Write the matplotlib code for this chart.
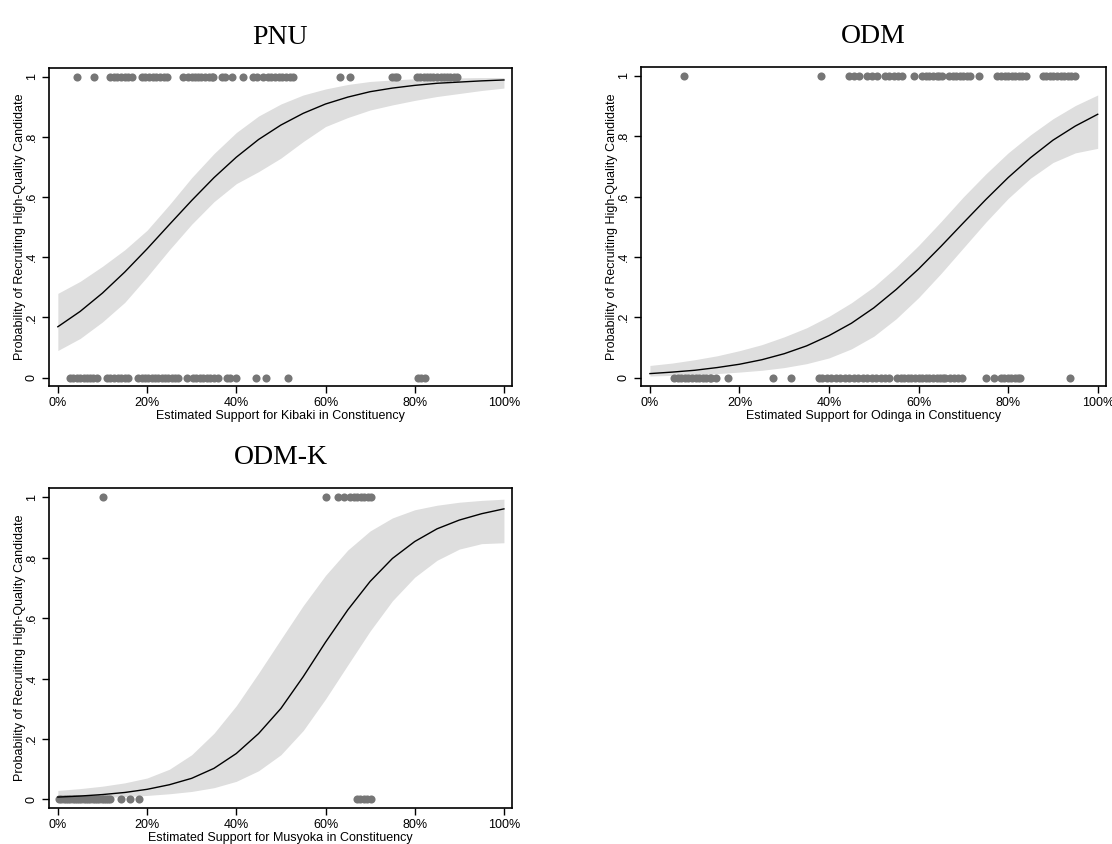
import numpy as np
import matplotlib
matplotlib.use("Agg")
import matplotlib.pyplot as plt

plt.rcParams['font.family'] = ['Liberation Sans', 'DejaVu Sans']

# support grid (percent) used for the fitted curves
grid = [0, 5, 10, 15, 20, 25, 30, 35, 40, 45, 50, 55, 60, 65, 70, 75, 80, 85, 90, 95, 100]

# PNU
pnu_fit = [0.169, 0.220, 0.281, 0.351, 0.428, 0.509, 0.589, 0.665, 0.733, 0.792, 0.840, 0.879,
           0.910, 0.933, 0.951, 0.963, 0.972, 0.979, 0.983, 0.987, 0.990]
pnu_hi = [0.28, 0.32, 0.37, 0.425, 0.49, 0.575, 0.665, 0.745, 0.815, 0.87, 0.91, 0.94, 0.96,
          0.975, 0.985, 0.99, 0.994, 0.996, 0.997, 0.998, 0.998]
pnu_lo = [0.09, 0.13, 0.185, 0.25, 0.335, 0.425, 0.51, 0.585, 0.645, 0.685, 0.73, 0.785, 0.835,
          0.865, 0.89, 0.907, 0.922, 0.935, 0.945, 0.955, 0.963]
pnu_yes = [4.3, 8.1, 11.7, 12.5, 13.3, 14.2, 15.0, 15.8, 16.6, 18.8, 19.6, 20.4, 21.3, 22.1,
           23.0, 23.8, 24.4, 28.0, 29.2, 30.0, 30.8, 31.5, 32.2, 33.0, 33.8, 34.5, 34.8, 36.7,
           37.4, 39.0, 41.5, 43.8, 44.6, 46.0, 47.0, 47.8, 48.6, 49.5, 50.3, 51.2, 52.0, 52.7,
           63.2, 65.5, 74.8, 75.5, 76.0, 80.5, 81.2, 82.0, 82.8, 83.5, 84.2, 85.0, 85.8, 86.5,
           87.2, 88.0, 88.7, 89.4]
pnu_no = [2.7, 3.5, 4.3, 5.0, 5.8, 6.5, 7.2, 7.9, 8.8, 11.0, 11.8, 12.6, 13.4, 14.2, 15.0,
          15.7, 18.0, 18.8, 19.6, 20.3, 21.0, 21.8, 22.5, 23.3, 24.0, 24.8, 25.5, 26.3, 27.0,
          29.0, 30.3, 31.0, 31.8, 32.6, 33.4, 34.2, 35.0, 36.0, 37.9, 38.7, 40.0, 44.4, 46.6,
          51.7, 80.8, 81.5, 82.3]

# ODM
odm_fit = [0.013, 0.018, 0.024, 0.033, 0.044, 0.059, 0.079, 0.105, 0.139, 0.18, 0.231, 0.292,
           0.36, 0.435, 0.513, 0.59, 0.663, 0.729, 0.787, 0.834, 0.873]
odm_hi = [0.040, 0.048, 0.059, 0.072, 0.089, 0.109, 0.135, 0.165, 0.203, 0.248, 0.301, 0.366,
          0.438, 0.517, 0.599, 0.675, 0.745, 0.805, 0.858, 0.902, 0.937]
odm_lo = [0.005, 0.007, 0.009, 0.013, 0.018, 0.024, 0.033, 0.046, 0.065, 0.095, 0.137, 0.195,
          0.265, 0.345, 0.430, 0.515, 0.594, 0.661, 0.713, 0.745, 0.760]
odm_yes = [7.6, 38.3, 44.4, 45.5, 46.6, 48.4, 49.5, 50.7, 52.5, 53.5, 54.4, 55.3, 56.3, 59.0,
           60.8, 61.6, 62.4, 63.2, 64.0, 64.6, 65.2, 66.8, 67.6, 68.4, 69.2, 70.0, 70.8, 71.5,
           73.5, 77.6, 78.4, 79.2, 80.0, 80.8, 81.6, 82.4, 83.2, 83.9, 87.7, 88.5, 89.3, 90.1,
           90.9, 91.7, 92.5, 93.3, 94.1, 95.0]
odm_no = [5.4, 6.2, 7.0, 7.8, 8.6, 9.4, 10.2, 11.0, 11.8, 12.6, 13.4, 13.7, 14.8, 17.5, 27.4,
          31.4, 37.7, 38.5, 39.5, 40.5, 41.5, 42.5, 43.5, 44.5, 45.5, 46.5, 47.5, 48.5, 49.5,
          50.5, 51.5, 52.5, 53.4, 55.2, 56.0, 56.8, 57.6, 58.4, 59.2, 60.0, 60.8, 61.6, 62.4,
          63.2, 64.0, 64.8, 65.5, 66.0, 67.0, 67.8, 68.8, 69.7, 75.0, 76.9, 78.3, 79.1, 79.9,
          80.7, 81.5, 82.2, 82.7, 93.7]

# ODM-K
odmk_fit = [0.008, 0.0114, 0.0163, 0.0232, 0.0336, 0.0488, 0.070, 0.103, 0.152, 0.218, 0.301,
            0.406, 0.520, 0.627, 0.721, 0.797, 0.853, 0.895, 0.924, 0.945, 0.961]
odmk_hi = [0.030, 0.036, 0.044, 0.055, 0.071, 0.100, 0.148, 0.219, 0.310, 0.418, 0.530, 0.641,
           0.741, 0.825, 0.888, 0.931, 0.958, 0.973, 0.983, 0.989, 0.993]
odmk_lo = [0.0025, 0.0041, 0.0064, 0.0095, 0.0134, 0.0189, 0.0266, 0.039, 0.060, 0.095, 0.148,
           0.228, 0.332, 0.445, 0.557, 0.657, 0.735, 0.791, 0.828, 0.846, 0.849]
odmk_yes = [10.1, 60.0, 62.8, 64.2, 65.5, 66.3, 67.1, 67.9, 68.7, 69.5, 70.2]
odmk_no = [0.3, 0.8, 1.3, 1.8, 2.3, 2.8, 3.3, 3.8, 4.3, 4.8, 5.3, 5.8, 6.3, 6.8, 7.3, 7.8,
           8.3, 8.8, 9.3, 9.8, 10.3, 10.8, 11.3, 11.8, 14.1, 16.1, 18.2, 67.0, 67.8, 68.6,
           69.4, 70.2]

panels = [
    ("PNU", "Kibaki", pnu_fit, pnu_lo, pnu_hi, pnu_yes, pnu_no, [0.044, 0.5427, 0.4164, 0.3768]),
    ("ODM", "Odinga", odm_fit, odm_lo, odm_hi, odm_yes, odm_no, [0.5764, 0.5427, 0.418, 0.3780]),
    ("ODM-K", "Musyoka", odmk_fit, odmk_lo, odmk_hi, odmk_yes, odmk_no, [0.044, 0.0427, 0.4164, 0.3791]),
]

fig = plt.figure(figsize=(11.12, 8.44), dpi=100)

for title, name, fit, lo, hi, yes, no, pos in panels:
    ax = fig.add_axes(pos)
    ax.fill_between(grid, lo, hi, color='#dedede', linewidth=0, zorder=1)
    ax.plot(grid, fit, color='black', lw=1.0, zorder=3)
    ax.scatter(yes, np.ones(len(yes)), s=34, color='#767676', linewidths=0, zorder=2)
    ax.scatter(no, np.zeros(len(no)), s=34, color='#767676', linewidths=0, zorder=2)
    ax.set_xlim(-2.0, 101.8)
    ax.set_ylim(-0.028, 1.03)
    ax.set_xticks([0, 20, 40, 60, 80, 100])
    ax.set_xticklabels(['0%', '20%', '40%', '60%', '80%', '100%'])
    ax.set_yticks([0, 0.2, 0.4, 0.6, 0.8, 1])
    ax.set_yticklabels(['0', '.2', '.4', '.6', '.8', '1'], rotation=90, va='center')
    ax.tick_params(direction='out', length=5, width=1, labelsize=9, colors='black', pad=3)
    for sp in ax.spines.values():
        sp.set_linewidth(1.2)
        sp.set_color('black')
    ax.set_xlabel('Estimated Support for %s in Constituency' % name, fontsize=9, labelpad=1)
    ax.set_ylabel('Probability of Recruiting High-Quality Candidate', fontsize=9, labelpad=0)
    ax.set_title(title, fontsize=20, family=['Liberation Serif', 'DejaVu Serif'], pad=17)

fig.savefig('out.png', dpi=100, facecolor='white')
